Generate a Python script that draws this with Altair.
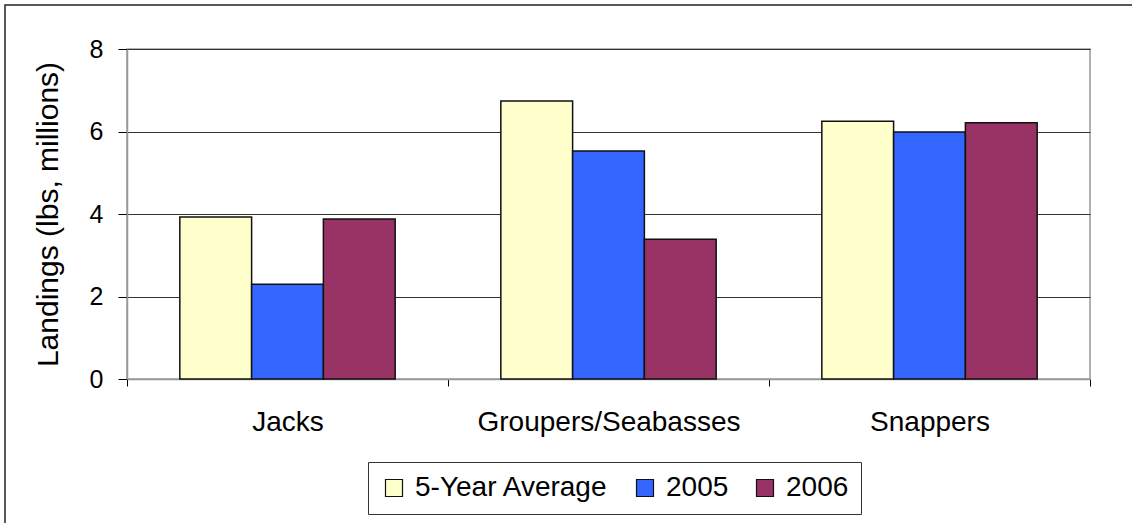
import altair as alt
import pandas as pd

# Fish landings by species group (millions of lbs)
groups = ["Jacks", "Groupers/Seabasses", "Snappers"]
series = ["5-Year Average", "2005", "2006"]
five_year_avg = [3.93, 6.74, 6.25]
y2005 = [2.30, 5.53, 5.99]
y2006 = [3.88, 3.39, 6.21]
colors = ["#FFFFCC", "#3366FF", "#993366"]
y_ticks = [0, 2, 4, 6, 8]

rows = []
for i, g in enumerate(groups):
    for s, vals in zip(series, [five_year_avg, y2005, y2006]):
        rows.append({"group": g, "series": s, "value": vals[i]})
df = pd.DataFrame(rows)

FONT = "Liberation Sans"
W, H = 963, 330

bars = alt.Chart(df).mark_bar(stroke="#111111", strokeWidth=1.5).encode(
    x=alt.X(
        "group:N",
        sort=groups,
        title=None,
        scale=alt.Scale(paddingInner=0, paddingOuter=0),
        axis=alt.Axis(
            tickBand="extent",
            labelAngle=0,
            labelFontSize=28,
            labelLimit=500,
            labelColor="#000000",
            labelPadding=22,
            tickSize=7,
            tickColor="#000000",
            domainColor="#999999",
            domainWidth=1.5,
            grid=False,
        ),
    ),
    xOffset=alt.XOffset(
        "series:N",
        sort=series,
        scale=alt.Scale(paddingInner=0, paddingOuter=0.736),
    ),
    y=alt.Y(
        "value:Q",
        title="Landings (lbs, millions)",
        scale=alt.Scale(domain=[0, 8], nice=False),
        axis=alt.Axis(
            values=y_ticks,
            labelFontSize=25,
            labelColor="#000000",
            labelPadding=15,
            tickSize=9,
            tickColor="#000000",
            domainColor="#999999",
            domainWidth=1.5,
            gridColor="#333333",
            gridWidth=1,
            titleFontSize=30,
            titleFontWeight="normal",
            titleColor="#000000",
            titlePadding=26,
        ),
    ),
    color=alt.Color(
        "series:N",
        sort=series,
        scale=alt.Scale(domain=series, range=colors),
        legend=alt.Legend(
            title=None,
            orient="none",
            legendX=241,
            legendY=413,
            direction="horizontal",
            symbolType="square",
            symbolSize=289,
            symbolStrokeColor="#111111",
            symbolStrokeWidth=1.2,
            labelFontSize=28,
            labelLimit=400,
            labelColor="#000000",
            columnPadding=22,
            labelOffset=7,
            padding=12,
            strokeColor="#333333",
            fillColor="#FFFFFF",
        ),
    ),
)

# Outer frame around the whole figure
frame = alt.Chart(alt.Data(values=[{}])).mark_rect(
    fill=None, stroke="#222222", strokeWidth=1.5
).encode(
    x=alt.value(-122), x2=alt.value(W + 200),
    y=alt.value(-44), y2=alt.value(H + 200),
)

chart = alt.layer(frame, bars).properties(
    width=W,
    height=H,
    padding={"left": 127, "top": 49, "right": 42, "bottom": 144},
    autosize=alt.AutoSizeParams(type="none"),
).configure(
    font=FONT,
).configure_view(
    stroke="#999999", strokeWidth=1.5,
)

chart.save("out.html", embed_options={"renderer": "svg", "actions": False})
